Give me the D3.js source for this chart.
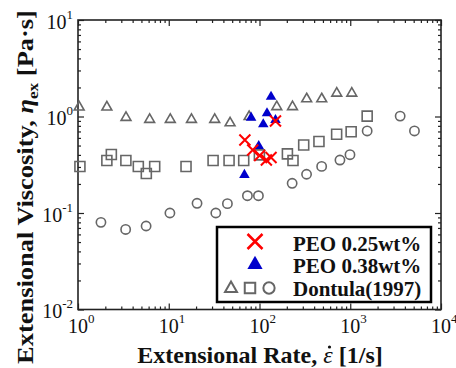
<!DOCTYPE html>
<html>
<head>
<meta charset="utf-8">
<script src="https://cdn.jsdelivr.net/npm/d3@7"></script>
<style>
body { margin: 0; background: #fff; }
svg { display: block; }
text { font-family: "Liberation Serif", "Times New Roman", serif; }
</style>
</head>
<body>
<svg id="svg" width="456" height="368"></svg>
<script>
"use strict";

// tick values
const xMajor = [1, 10, 100, 1000, 10000];
const yMajor = [0.01, 0.1, 1, 10];
const xExp = ["0", "1", "2", "3", "4"];
const yExp = ["-2", "-1", "0", "1"];

// Dontula (1997), three data sets
const triRate = [1.03, 2.08, 3.38, 6.16, 10.4, 17.8, 32.1, 47.4, 76.8, 155, 231, 331, 485, 710, 1040];
const triVisc = [1.25, 1.25, 0.976, 0.93, 0.93, 0.93, 0.93, 0.857, 0.995, 1.26, 1.26, 1.52, 1.52, 1.74, 1.74];
const sqRate = [1.05, 2.08, 2.33, 3.37, 4.62, 5.66, 7.0, 15.5, 30.8, 46.2, 67, 99.7, 203, 234, 307, 452, 708, 1023, 1536];
const sqVisc = [0.303, 0.35, 0.404, 0.35, 0.303, 0.257, 0.303, 0.303, 0.35, 0.35, 0.35, 0.40, 0.41, 0.35, 0.507, 0.551, 0.654, 0.696, 1.01];
const cirRate = [1.79, 3.35, 5.63, 10.3, 20.5, 33, 44.3, 73.6, 97.3, 229, 330, 484, 770, 993, 1536, 3548, 5100];
const cirVisc = [0.080, 0.0675, 0.0733, 0.1, 0.126, 0.1, 0.125, 0.151, 0.151, 0.203, 0.252, 0.304, 0.354, 0.402, 0.708, 1.01, 0.708];

// PEO solutions
const peo25Rate = [69, 84.2, 100.5, 119, 134, 150];
const peo25Visc = [0.571, 0.45, 0.394, 0.354, 0.376, 0.898];
const peo38Rate = [68.2, 80.8, 98, 110, 121, 134, 150];
const peo38Visc = [0.248, 0.972, 0.495, 0.83, 1.08, 1.60, 0.92];

const legendLabels = ["PEO 0.25wt%", "PEO 0.38wt%", "Dontula(1997)"];

const gray = "#666";
const red = "#ff0000";
const blue = "#0000cc";

var svg = d3.select("svg");

var x = d3.scaleLog().domain([1, 1e4]).range([78, 441]);
var y = d3.scaleLog().domain([1e-2, 10]).range([309.5, 20]);

function minors(lo, hi)
{
    var out = [];
    for (var p = lo; p < hi; p++)
        for (var m = 2; m <= 9; m++)
            out.push(m * Math.pow(10, p));
    return out;
}

// frame ticks, all pointing inward
function drawTicks(axisFn, scale, values, size, tx, ty)
{
    var g = svg.append("g")
        .attr("transform", "translate(" + tx + "," + ty + ")")
        .call(axisFn(scale).tickValues(values).tickSize(-size).tickFormat(""));
    g.select(".domain").remove();
    g.selectAll("line").attr("stroke", "#222").attr("stroke-width", 1.2);
}

drawTicks(d3.axisBottom, x, xMajor, 6, 0, y(0.01));
drawTicks(d3.axisTop, x, xMajor, 6, 0, y(10));
drawTicks(d3.axisLeft, y, yMajor, 6, x(1), 0);
drawTicks(d3.axisRight, y, yMajor, 6, x(1e4), 0);
drawTicks(d3.axisBottom, x, minors(0, 4), 3, 0, y(0.01));
drawTicks(d3.axisTop, x, minors(0, 4), 3, 0, y(10));
drawTicks(d3.axisLeft, y, minors(-2, 1), 3, x(1), 0);
drawTicks(d3.axisRight, y, minors(-2, 1), 3, x(1e4), 0);

svg.append("rect")
    .attr("x", x(1))
    .attr("y", y(10))
    .attr("width", x(1e4) - x(1))
    .attr("height", y(0.01) - y(10))
    .attr("fill", "none")
    .attr("stroke", "#222")
    .attr("stroke-width", 1.6);

// tick labels 10^n
var xl = svg.append("g").selectAll("text")
    .data(xMajor)
    .enter()
    .append("text")
        .attr("x", d => x(d) - 10)
        .attr("y", 333)
        .attr("font-size", 20)
        .attr("fill", "#111");
xl.append("tspan").text("10");
xl.append("tspan").attr("dy", -10).attr("font-size", 13).text((d, i) => xExp[i]);

var yl = svg.append("g").selectAll("text")
    .data(yMajor)
    .enter()
    .append("text")
        .attr("x", 73)
        .attr("y", d => y(d) + 8.5)
        .attr("text-anchor", "end")
        .attr("font-size", 20)
        .attr("fill", "#111");
yl.append("tspan").text("10");
yl.append("tspan").attr("dy", -10).attr("font-size", 13).text((d, i) => yExp[i]);

// axis titles
var xPre = "Extensional Rate, ";
var xt = svg.append("text")
    .attr("x", 260)
    .attr("y", 363)
    .attr("text-anchor", "middle")
    .attr("font-size", 24)
    .attr("font-weight", "bold")
    .attr("fill", "#111");
xt.append("tspan").text(xPre);
xt.append("tspan").attr("font-style", "italic").attr("font-weight", "normal").text("\u03B5");
xt.append("tspan").text(" [1/s]");
// dot over epsilon
var eps = xt.node().getExtentOfChar(xPre.length);
svg.append("circle")
    .attr("cx", eps.x + eps.width / 2 + 1.5)
    .attr("cy", 363 - 16)
    .attr("r", 1.6)
    .attr("fill", "#111");

var yt = svg.append("text")
    .attr("text-anchor", "middle")
    .attr("font-size", 23)
    .attr("font-weight", "bold")
    .attr("fill", "#111");
yt.append("tspan").text("Extensional Viscosity, ");
yt.append("tspan").attr("font-style", "italic").text("\u03B7");
yt.append("tspan").attr("font-size", 15).attr("dy", 5).text("ex");
yt.append("tspan").attr("dy", -5).text(" [Pa\u00B7s]");
var ytw = yt.node().getComputedTextLength();
yt.attr("transform", "translate(33,187) rotate(-90) scale(" + (354 / ytw) + ",1)");

// markers
var tri = d3.symbol().type(d3.symbolTriangle);
var sq = d3.symbol().type(d3.symbolSquare);
var cir = d3.symbol().type(d3.symbolCircle);
function cross(r) { return "M" + -r + "," + -r + "L" + r + "," + r + "M" + -r + "," + r + "L" + r + "," + -r; }

function openSeries(rates, viscs, path)
{
    svg.append("g").selectAll("path")
        .data(rates)
        .enter()
        .append("path")
            .attr("d", path)
            .attr("transform", (d, i) => "translate(" + x(d) + "," + y(viscs[i]) + ")")
            .attr("fill", "none")
            .attr("stroke", gray)
            .attr("stroke-width", 1.6);
}

openSeries(triRate, triVisc, tri.size(42)());
openSeries(sqRate, sqVisc, sq.size(100)());
openSeries(cirRate, cirVisc, cir.size(68)());

svg.append("g").selectAll("path")
    .data(peo38Rate)
    .enter()
    .append("path")
        .attr("d", tri.size(48)())
        .attr("transform", (d, i) => "translate(" + x(d) + "," + y(peo38Visc[i]) + ")")
        .attr("fill", blue);

svg.append("g").selectAll("path")
    .data(peo25Rate)
    .enter()
    .append("path")
        .attr("d", cross(5.5))
        .attr("transform", (d, i) => "translate(" + x(d) + "," + y(peo25Visc[i]) + ")")
        .attr("fill", "none")
        .attr("stroke", red)
        .attr("stroke-width", 2);

// legend
var lg = svg.append("g");
lg.append("rect")
    .attr("x", 217).attr("y", 227)
    .attr("width", 214).attr("height", 75)
    .attr("fill", "#fff")
    .attr("stroke", "#000")
    .attr("stroke-width", 2.5);

lg.append("path")
    .attr("d", cross(7.5))
    .attr("transform", "translate(255,241.5)")
    .attr("fill", "none").attr("stroke", red).attr("stroke-width", 2.5);
lg.append("path")
    .attr("d", tri.size(100)())
    .attr("transform", "translate(255,264.5)")
    .attr("fill", blue);
lg.append("path")
    .attr("d", tri.size(62)())
    .attr("transform", "translate(231,288.5)")
    .attr("fill", "none").attr("stroke", gray).attr("stroke-width", 2);
lg.append("path")
    .attr("d", sq.size(110)())
    .attr("transform", "translate(250,288)")
    .attr("fill", "none").attr("stroke", gray).attr("stroke-width", 2);
lg.append("path")
    .attr("d", cir.size(100)())
    .attr("transform", "translate(269,288)")
    .attr("fill", "none").attr("stroke", gray).attr("stroke-width", 2);

lg.selectAll("text")
    .data(legendLabels)
    .enter()
    .append("text")
        .attr("x", 293)
        .attr("y", (d, i) => 250.5 + i * 22.5)
        .attr("font-size", 21)
        .attr("font-weight", "bold")
        .attr("fill", "#111")
        .text(d => d);
</script>
</body>
</html>
